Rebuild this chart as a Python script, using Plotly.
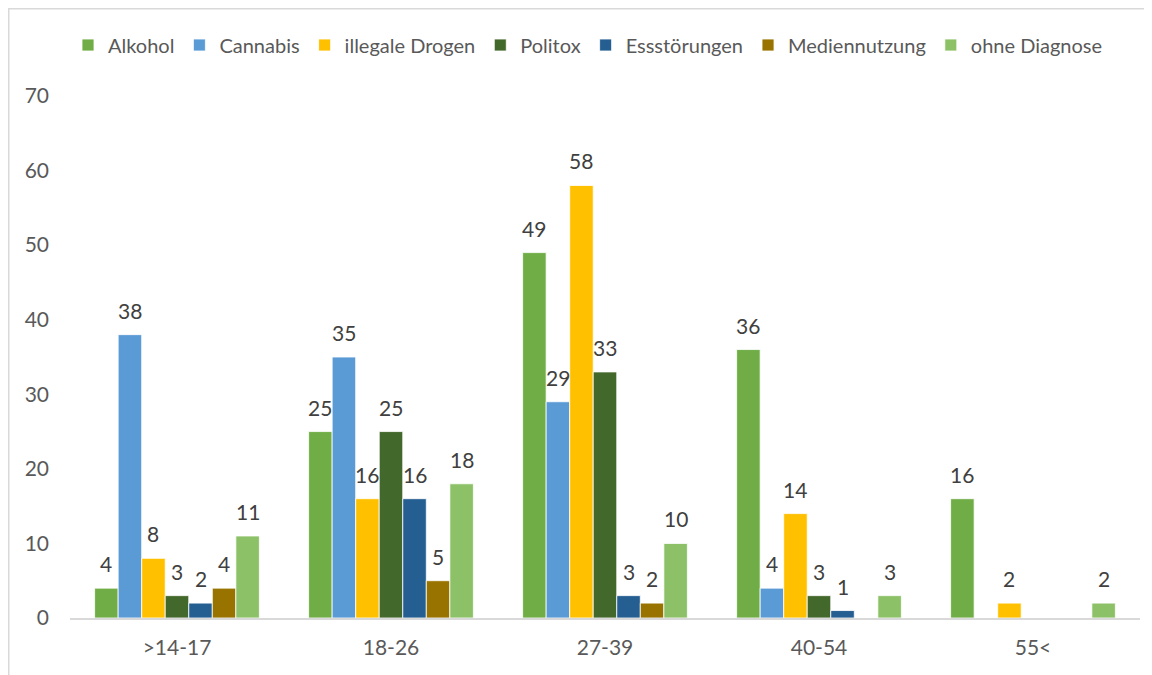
import plotly.graph_objects as go

categories = [">14-17", "18-26", "27-39", "40-54", "55<"]
series_names = ["Alkohol", "Cannabis", "illegale Drogen", "Politox", "Essstörungen", "Mediennutzung", "ohne Diagnose"]
alkohol = [4, 25, 49, 36, 16]
cannabis = [38, 35, 29, 4, None]
illegale_drogen = [8, 16, 58, 14, 2]
politox = [3, 25, 33, 3, None]
essstoerungen = [2, 16, 3, 1, None]
mediennutzung = [4, 5, 2, None, None]
ohne_diagnose = [11, 18, 10, 3, 2]
y_ticks = [0, 10, 20, 30, 40, 50, 60, 70]

values = [alkohol, cannabis, illegale_drogen, politox, essstoerungen, mediennutzung, ohne_diagnose]
colors = ["#70AD47", "#5B9BD5", "#FFC000", "#43682B", "#255E91", "#997300", "#8DC168"]

FONT = "Lato"
FS = 21
W, H = 1152, 675
ML, MR, MT, MB = 62, 20, 88, 65
PW = W - ML - MR
PH = H - MT - MB
BARGAP = 0.23
n_series = len(series_names)
bar_px = PW / len(categories) * (1 - BARGAP) / n_series

fig = go.Figure()
annotations = []
for i, (name, vals, col) in enumerate(zip(series_names, values, colors)):
    fig.add_trace(go.Bar(
        name=name, x=categories, y=vals,
        marker=dict(color=col, line=dict(color="white", width=0.8)),
    ))
    for c, v in zip(categories, vals):
        if v is None:
            continue
        annotations.append(dict(
            x=c, y=v, xref="x", yref="y", text=str(v), showarrow=False,
            xanchor="center", yanchor="bottom",
            xshift=(i - (n_series - 1) / 2) * bar_px, yshift=10,
            font=dict(family=FONT, size=FS, color="#404040"),
        ))

fig.update_layout(
    width=W, height=H,
    barmode="group", bargap=BARGAP, bargroupgap=0,
    plot_bgcolor="white", paper_bgcolor="white",
    margin=dict(l=ML, r=MR, t=MT, b=MB, autoexpand=False),
    font=dict(family=FONT, size=FS, color="#595959"),
    legend=dict(orientation="h", x=(580 - ML) / PW, xanchor="center",
                y=(H - MB - 37) / PH, yanchor="middle",
                font=dict(family=FONT, size=20, color="#595959"),
                traceorder="normal"),
    annotations=annotations,
)
fig.update_yaxes(range=[0, 70], tickvals=y_ticks, showgrid=False, zeroline=False,
                 showline=False, ticks="", tickfont=dict(size=FS, color="#595959"),
                 ticklabelstandoff=20)
fig.update_xaxes(showline=True, linecolor="#D9D9D9", linewidth=1.5, ticks="",
                 tickfont=dict(size=FS, color="#595959"), ticklabelstandoff=10)

# outer chart border
fig.add_shape(type="rect", xref="paper", yref="paper",
              x0=(0.75 - ML) / PW, x1=(W + 20 - ML) / PW,
              y0=(H - MB - (H + 20)) / PH, y1=(H - MB - 0.75) / PH,
              line=dict(color="#D9D9D9", width=1.5), fillcolor="rgba(0,0,0,0)", layer="below")

fig.write_html("out.html")
